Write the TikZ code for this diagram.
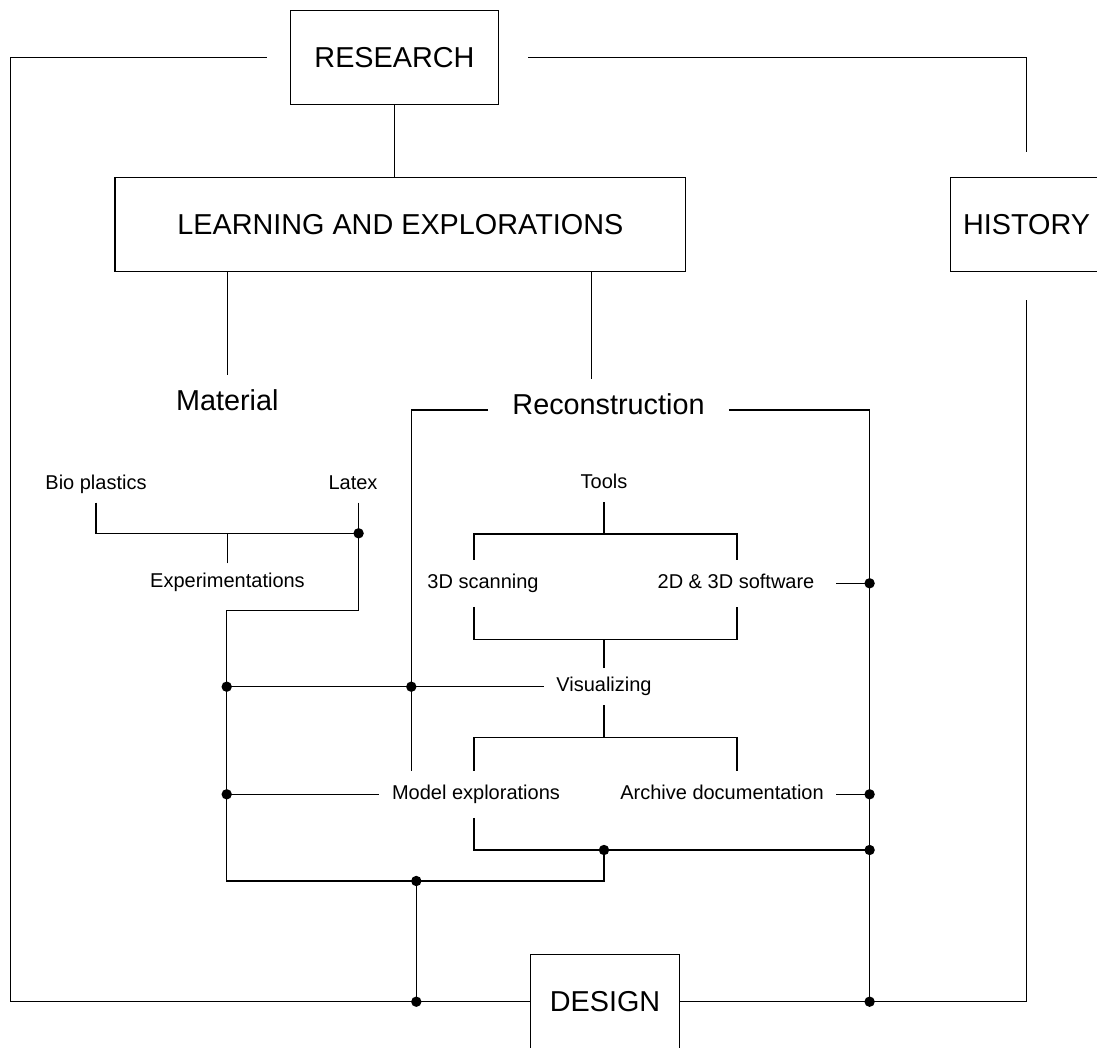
\documentclass[tikz,border=0pt]{standalone}
\usepackage{fontspec}
\setmainfont{Liberation Sans}

\begin{document}
\begin{tikzpicture}[x=0.5pt, y=-0.5pt, line width=0.65pt,
    box/.style={draw, inner sep=0pt, minimum height=47pt, font=\fontsize{14.4}{17}\selectfont},
    big/.style={anchor=base, inner xsep=11.8pt, inner ysep=6.5pt, text height=10.8pt, text depth=6.5pt, font=\fontsize{14.4}{17}\selectfont},
    small/.style={anchor=base, inner xsep=6pt, inner ysep=4pt, text height=7.5pt, text depth=2.5pt, font=\fontsize{10}{12}\selectfont},
    branch/.style={small, inner ysep=6.5pt}]
  \useasboundingbox (0,0) rectangle (1097,1048);
  % Main boxes
  \node[box, minimum width=104.2pt] (research) at (394.5,57.7) {RESEARCH};
  \node[box, minimum width=285.3pt] (learning) at (400.3,224.7) {LEARNING AND EXPLORATIONS};
  \node[box, minimum width=76pt] (history) at (1026.5,224.7) {HISTORY};
  \node[box, minimum width=74.2pt] (design) at (605,1001.7) {DESIGN};
  % Branch titles
  \node[big] (material) at (227.3,410.7) {Material};
  \node[big] (recon) at (608.5,414.3) {Reconstruction};
  % Material side
  \node[small] (bio) at (96,489) {Bio plastics};
  \node[small] (latex) at (353,489) {Latex};
  \node[small] (exp) at (227.5,587) {Experimentations};
  % Reconstruction side
  \node[small] (tools) at (604,488.5) {Tools};
  \node[branch] (scan) at (483,588.3) {3D scanning};
  \node[branch] (soft) at (736,588.3) {2D \& 3D software};
  \node[small] (vis) at (604,691.7) {Visualizing};
  \node[branch] (model) at (476,799.3) {Model explorations};
  \node[branch] (archive) at (722,799.3) {Archive documentation};

  % Junctions
  \coordinate (loopL) at (10.5,57.7);
  \coordinate (colL) at (474,0);
  \coordinate (colR) at (737,0);
  \coordinate (colRec) at (411.3,0);
  \coordinate (jLatex) at (358.6,533.3);
  \coordinate (jLatexLow) at (358.6,610.7);
  \coordinate (cBotL) at (226.7,881);
  \coordinate (dBot) at (416.3,881);
  \coordinate (dDesL) at (416.3,1001.7);
  \coordinate (dDesR) at (869.6,1001.7);
  \coordinate (dArcR) at (869.6,850);
  \coordinate (dArcM) at (vis |- dArcR);
  \coordinate (dVisL) at (cBotL |- vis.west);
  \coordinate (dVisR) at (colRec |- vis.west);
  \coordinate (dModL) at (cBotL |- model.west);
  \coordinate (dSoftR) at (dDesR |- soft.east);
  \coordinate (dArchR) at (dDesR |- archive.east);
  \coordinate (reconTop) at ([xshift=-8.4pt]recon.north);

  % Outer loops
  \draw[shorten <=11.5pt] (research.west) -- (loopL) |- (design.west);
  \draw[shorten <=14.5pt, shorten >=12.4pt] (research.east) -| (history.north);
  \draw[shorten <=14pt] (history.south) |- (design.east);
  % Tree from the top
  \draw (research.south) -- (research.south |- learning.north);
  \draw (material.north |- learning.south) -- (material.north);
  \draw (reconTop |- learning.south) -- (reconTop);
  % Material
  \draw (bio.south) |- (jLatex);
  \draw (exp.north) -- (exp.north |- jLatex);
  \draw (latex.south -| jLatex) -- (jLatexLow) -| (cBotL) -| (dArcM);
  \draw (dVisL) -- (vis.west);
  \draw (dModL) -- (model.west);
  \draw (dBot) -- (dDesL);
  % Reconstruction
  \draw (recon.west) -| (colRec |- model.north);
  \draw (recon.east) -| (dDesR);
  \draw[shorten <=4.5pt] (soft.east) -- (dSoftR);
  \draw (archive.east) -- (dArchR);
  \draw (tools.south) -- ++(0,31.8) coordinate (tb);
  \draw (scan.north -| colL) |- (tb) -| (soft.north -| colR);
  \draw (vis.north) -- ++(0,-28.7) coordinate (sb);
  \draw (scan.south -| colL) |- (sb) -| (soft.south -| colR);
  \draw (vis.south) -- ++(0,32) coordinate (mb);
  \draw (model.north -| colL) |- (mb) -| (archive.north -| colR);
  \draw (model.south -| colL) |- (dArcR);
  % Junction dots
  \foreach \p in {jLatex,dVisL,dVisR,dModL,dBot,dDesL,dSoftR,dArchR,dArcR,dArcM,dDesR}
    \fill (\p) circle (2.6pt);
\end{tikzpicture}
\end{document}
